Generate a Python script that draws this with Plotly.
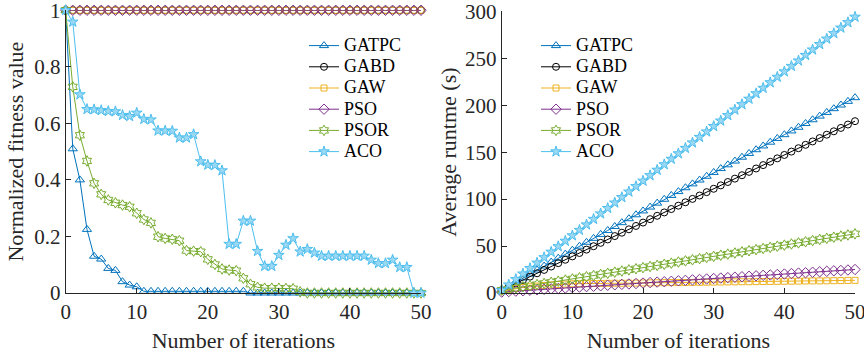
import plotly.graph_objects as go

# Iteration index shared by both panels
iterations = list(range(51))

# Normalized fitness value per iteration
fit_gatpc = [1.0, 0.51, 0.40, 0.225, 0.13, 0.12, 0.087, 0.08, 0.04, 0.028, 0.022,
             0.006, 0.006, 0.006, 0.006, 0.006, 0.006, 0.006, 0.006, 0.006, 0.006,
             0.006, 0.006, 0.006, 0.006, 0.006, 0.0, 0.0, 0.0, 0.0, 0.0,
             0.0, 0.0, 0.0, 0.0, 0.0, 0.0, 0.0, 0.0, 0.0, 0.0,
             0.0, 0.0, 0.0, 0.0, 0.0, 0.0, 0.0, 0.0, 0.0, 0.0]
fit_gabd = [1.0, 1.0, 1.0, 1.0, 1.0, 1.0, 1.0, 1.0, 1.0, 1.0, 1.0,
            1.0, 1.0, 1.0, 1.0, 1.0, 1.0, 1.0, 1.0, 1.0, 1.0,
            1.0, 1.0, 1.0, 1.0, 1.0, 1.0, 1.0, 1.0, 1.0, 1.0,
            1.0, 1.0, 1.0, 1.0, 1.0, 1.0, 1.0, 1.0, 1.0, 1.0,
            1.0, 1.0, 1.0, 1.0, 1.0, 1.0, 1.0, 1.0, 1.0, 1.0]
fit_gaw = [1.0, 1.0, 1.0, 1.0, 1.0, 1.0, 1.0, 1.0, 1.0, 1.0, 1.0,
           1.0, 1.0, 1.0, 1.0, 1.0, 1.0, 1.0, 1.0, 1.0, 1.0,
           1.0, 1.0, 1.0, 1.0, 1.0, 1.0, 1.0, 1.0, 1.0, 1.0,
           1.0, 1.0, 1.0, 1.0, 1.0, 1.0, 1.0, 1.0, 1.0, 1.0,
           1.0, 1.0, 1.0, 1.0, 1.0, 1.0, 1.0, 1.0, 1.0, 1.0]
fit_pso = [1.0, 1.0, 1.0, 1.0, 1.0, 1.0, 1.0, 1.0, 1.0, 1.0, 1.0,
           1.0, 1.0, 1.0, 1.0, 1.0, 1.0, 1.0, 1.0, 1.0, 1.0,
           1.0, 1.0, 1.0, 1.0, 1.0, 1.0, 1.0, 1.0, 1.0, 1.0,
           1.0, 1.0, 1.0, 1.0, 1.0, 1.0, 1.0, 1.0, 1.0, 1.0,
           1.0, 1.0, 1.0, 1.0, 1.0, 1.0, 1.0, 1.0, 1.0, 1.0]
fit_psor = [1.0, 0.729, 0.558, 0.467, 0.388, 0.349, 0.329, 0.319, 0.311, 0.305, 0.282,
            0.26, 0.248, 0.199, 0.193, 0.19, 0.185, 0.15, 0.148, 0.146, 0.119,
            0.101, 0.085, 0.081, 0.079, 0.052, 0.031, 0.02, 0.017, 0.017, 0.017,
            0.016, 0.015, 0.004, 0.0, 0.0, 0.0, 0.0, 0.0, 0.0, 0.0,
            0.0, 0.0, 0.0, 0.0, 0.0, 0.0, 0.0, 0.0, 0.0, 0.0]
fit_aco = [1.0, 0.959, 0.702, 0.650, 0.649, 0.646, 0.643, 0.642, 0.629, 0.625, 0.637,
           0.615, 0.613, 0.574, 0.574, 0.573, 0.549, 0.549, 0.561, 0.465, 0.453,
           0.452, 0.433, 0.173, 0.173, 0.255, 0.255, 0.148, 0.095, 0.095, 0.134,
           0.170, 0.193, 0.146, 0.155, 0.142, 0.131, 0.131, 0.131, 0.131, 0.131,
           0.131, 0.131, 0.117, 0.105, 0.105, 0.117, 0.091, 0.091, 0.0, 0.0]

# Average runtime (s) per iteration
rt_gatpc = [3.0, 7.3, 11.6, 15.9, 20.1, 24.4, 28.7, 32.9, 37.1, 41.4, 45.6,
            49.8, 54.0, 58.2, 62.4, 66.6, 70.8, 74.9, 79.1, 83.3, 87.4,
            91.5, 95.7, 99.8, 103.9, 108.0, 112.1, 116.2, 120.3, 124.3, 128.4,
            132.5, 136.5, 140.5, 144.6, 148.6, 152.6, 156.6, 160.6, 164.6, 168.6,
            172.6, 176.5, 180.5, 184.5, 188.4, 192.3, 196.3, 200.2, 204.1, 208.0]
rt_gabd = [3.0, 6.6, 10.2, 13.8, 17.4, 21.0, 24.6, 28.2, 31.8, 35.4, 39.0,
           42.6, 46.2, 49.8, 53.4, 57.0, 60.6, 64.2, 67.8, 71.4, 75.0,
           78.6, 82.2, 85.8, 89.4, 93.0, 96.6, 100.2, 103.8, 107.4, 111.0,
           114.6, 118.2, 121.8, 125.4, 129.0, 132.6, 136.2, 139.8, 143.4, 147.0,
           150.6, 154.2, 157.8, 161.4, 165.0, 168.6, 172.2, 175.8, 179.4, 183.0]
rt_gaw = [2.0, 3.5, 4.8, 5.8, 6.6, 7.3, 8.0, 8.6, 9.1, 9.5, 9.8,
          9.9, 10.0, 10.1, 10.2, 10.3, 10.4, 10.4, 10.5, 10.6, 10.7,
          10.8, 10.9, 11.0, 11.1, 11.1, 11.2, 11.3, 11.4, 11.5, 11.6,
          11.7, 11.8, 11.9, 12.0, 12.0, 12.1, 12.2, 12.3, 12.4, 12.5,
          12.6, 12.7, 12.8, 12.9, 12.9, 13.0, 13.1, 13.2, 13.4, 13.5]
rt_pso = [1.0, 1.5, 2.0, 2.4, 2.9, 3.4, 3.9, 4.4, 4.8, 5.3, 5.8,
          6.3, 6.8, 7.2, 7.7, 8.2, 8.7, 9.2, 9.6, 10.1, 10.6,
          11.1, 11.6, 12.0, 12.5, 13.0, 13.5, 14.0, 14.4, 14.9, 15.4,
          15.9, 16.4, 16.8, 17.3, 17.8, 18.3, 18.8, 19.2, 19.7, 20.2,
          20.7, 21.2, 21.6, 22.1, 22.6, 23.1, 23.6, 24.0, 24.5, 25.0]
rt_psor = [3.0, 4.2, 5.4, 6.6, 7.8, 9.0, 10.2, 11.4, 12.6, 13.8, 15.0,
           16.2, 17.4, 18.6, 19.8, 21.0, 22.2, 23.4, 24.6, 25.8, 27.0,
           28.2, 29.4, 30.6, 31.8, 33.0, 34.2, 35.4, 36.6, 37.8, 39.0,
           40.2, 41.4, 42.6, 43.8, 45.0, 46.2, 47.4, 48.6, 49.8, 51.0,
           52.2, 53.4, 54.6, 55.8, 57.0, 58.2, 59.4, 60.6, 61.8, 63.0]
rt_aco = [3.0, 8.8, 14.6, 20.5, 26.3, 32.1, 37.9, 43.7, 49.6, 55.4, 61.2,
          67.0, 72.8, 78.7, 84.5, 90.3, 96.1, 101.9, 107.8, 113.6, 119.4,
          125.2, 131.0, 136.9, 142.7, 148.5, 154.3, 160.1, 166.0, 171.8, 177.6,
          183.4, 189.2, 195.1, 200.9, 206.7, 212.5, 218.3, 224.2, 230.0, 235.8,
          241.6, 247.4, 253.3, 259.1, 264.9, 270.7, 276.5, 282.4, 288.2, 294.0]

x_ticks = [0, 10, 20, 30, 40, 50]
fit_ticks = [0, 0.2, 0.4, 0.6, 0.8, 1]
rt_ticks = [0, 50, 100, 150, 200, 250, 300]

FONT = "Liberation Serif"
INK = "#262626"

# name, line colour, marker fill, symbol, size, fitness, runtime
series = [
    ("GATPC", "#0072BD", "#0072BD", "triangle-up-open", 8, fit_gatpc, rt_gatpc),
    ("GABD", "#000000", "#000000", "circle-open", 7, fit_gabd, rt_gabd),
    ("GAW", "#EDB120", "#EDB120", "square-open", 6, fit_gaw, rt_gaw),
    ("PSO", "#7E2F8E", "#7E2F8E", "diamond-open", 8, fit_pso, rt_pso),
    ("PSOR", "#77AC30", "#77AC30", "hexagram-open", 8, fit_psor, rt_psor),
    ("ACO", "#4DBEEE", "#9AD8F4", "star", 8, fit_aco, rt_aco),
]

fig = go.Figure()
for name, color, fill, symbol, size, fit, rt in series:
    label = '<span style="font-size:18px">%s</span>' % name
    marker = dict(symbol=symbol, size=size, color=fill,
                  line=dict(color=color, width=1))
    fig.add_trace(go.Scatter(
        x=iterations, y=fit, mode="lines+markers", name=label,
        line=dict(color=color, width=1), marker=marker,
        xaxis="x", yaxis="y", legend="legend", cliponaxis=False))
    fig.add_trace(go.Scatter(
        x=iterations, y=rt, mode="lines+markers", name=label,
        line=dict(color=color, width=1), marker=marker,
        xaxis="x2", yaxis="y2", legend="legend2", cliponaxis=False))

TICK_FONT = dict(family=FONT, size=21, color=INK)
TITLE_FONT = dict(family=FONT, size=22, color=INK)


def make_axis(domain, rng, tickvals, title, anchor, standoff):
    return dict(
        domain=domain, range=rng, tickvals=tickvals, anchor=anchor,
        title=dict(text=title, font=TITLE_FONT, standoff=standoff),
        tickfont=TICK_FONT, ticklabeloverflow="allow", automargin=False,
        showline=True, linecolor=INK, linewidth=1,
        ticks="inside", ticklen=5, tickcolor=INK, tickwidth=1,
        showgrid=False, zeroline=False, mirror=False,
    )


legend_common = dict(
    font=dict(family=FONT, size=14, color="#000000"),
    bgcolor="rgba(0,0,0,0)", borderwidth=0,
    xanchor="left", yanchor="top",
)

fig.update_layout(
    width=864, height=353,
    margin=dict(l=0, r=0, t=0, b=0, autoexpand=False),
    paper_bgcolor="white", plot_bgcolor="white",
    font=dict(family=FONT, size=21, color=INK),
    xaxis=make_axis([0.076, 0.4873], [0, 50.0001], x_ticks,
                    "Number of iterations", "y", 10),
    yaxis=make_axis([0.170, 0.971], [0, 1.0001], fit_ticks,
                    "Normalized fitness value", "x", 4),
    xaxis2=make_axis([0.5807, 0.9896], [0, 50.0001], x_ticks,
                     "Number of iterations", "y2", 10),
    yaxis2=make_axis([0.170, 0.968], [0, 300.01], rt_ticks,
                     "Average runtme (s)", "x2", 2),
    legend=dict(x=304 / 864, y=1 - 30 / 353, **legend_common),
    legend2=dict(x=536 / 864, y=1 - 30 / 353, **legend_common),
    showlegend=True,
)

fig.write_html("out.html")
